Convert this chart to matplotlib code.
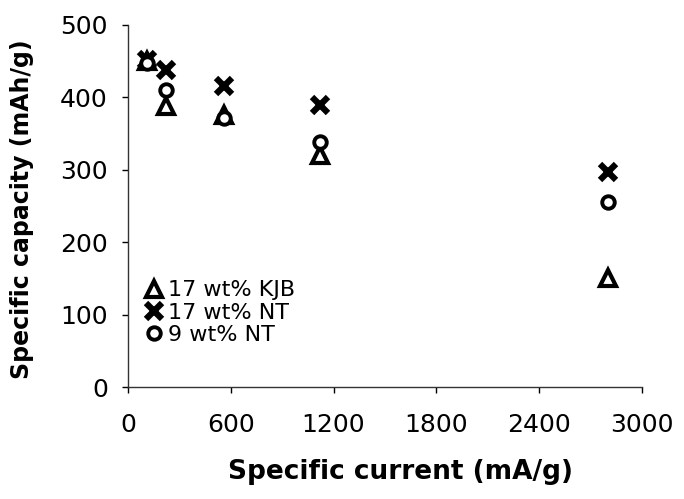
import matplotlib
matplotlib.use("Agg")
import matplotlib.pyplot as plt

plt.rcParams['font.family'] = ['DejaVu Sans']

current = [112, 224, 560, 1120, 2800]
kjb17 = [450, 388, 376, 320, 150]
nt17 = [452, 438, 416, 390, 297]
nt9 = [448, 410, 372, 339, 256]

xticks = [0, 600, 1200, 1800, 2400, 3000]
yticks = [0, 100, 200, 300, 400, 500]

fig = plt.figure(figsize=(6.84, 4.99), dpi=100)
ax = fig.add_axes([0.187, 0.2244, 0.7516, 0.7256])

ax.plot(current, kjb17, linestyle='none', marker='^', markersize=11,
        markerfacecolor='white', markeredgecolor='black', markeredgewidth=3,
        label='17 wt% KJB')
ax.plot(current, nt17, linestyle='none', marker='x', markersize=12,
        markeredgecolor='black', markeredgewidth=4.5, label='17 wt% NT')
ax.plot(current, nt9, linestyle='none', marker='o', markersize=9,
        markerfacecolor='white', markeredgecolor='black', markeredgewidth=2.8,
        label='9 wt% NT')

ax.set_xlim(0, 3000)
ax.set_ylim(0, 500)
ax.set_xticks(xticks)
ax.set_yticks(yticks)
ax.tick_params(axis='both', direction='out', length=4.5, width=1, labelsize=18)
ax.tick_params(axis='x', pad=14)
ax.tick_params(axis='y', pad=10)
for s in ['top', 'right']:
    ax.spines[s].set_visible(False)
for s in ['left', 'bottom']:
    ax.spines[s].set_linewidth(1)
    ax.spines[s].set_color('#333333')

ax.set_xlabel('Specific current (mA/g)', fontsize=19, fontweight='bold')
ax.set_ylabel('Specific capacity (mAh/g)', fontsize=17, fontweight='bold')
ax.xaxis.set_label_coords(0.53, -0.2)
ax.yaxis.set_label_coords(-0.182, 0.49)

leg = ax.legend(loc='lower left', bbox_to_anchor=(0.008, 0.08), frameon=False,
                fontsize=16, handlelength=0.8, handletextpad=0.2,
                labelspacing=0.1, borderaxespad=0.2)

fig.savefig('out.png', dpi=100)
